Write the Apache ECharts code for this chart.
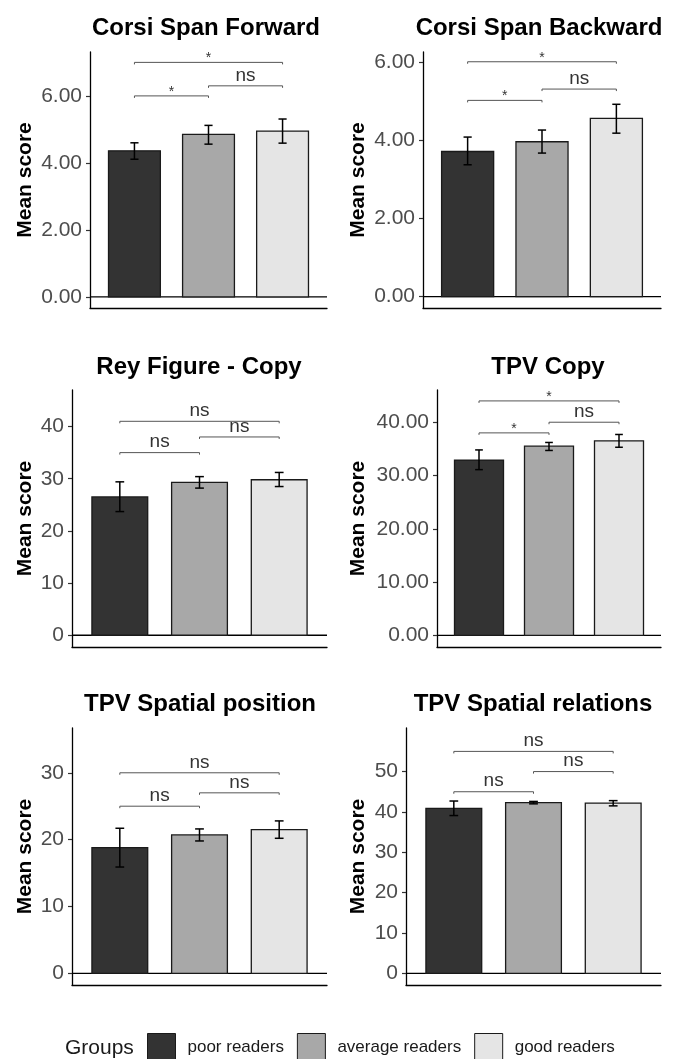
<!DOCTYPE html>
<html><head><meta charset="utf-8">
<script src="https://cdn.jsdelivr.net/npm/echarts@6/dist/echarts.min.js"></script>
<style>html,body{margin:0;padding:0;background:#fff}#c{width:673px;height:1059px}</style>
</head><body><div id="c"></div>
<script>
// ---------- data ----------
const groups = ['poor readers', 'average readers', 'good readers'];
const panelTitles = ['Corsi Span Forward', 'Corsi Span Backward', 'Rey Figure - Copy', 'TPV Copy', 'TPV Spatial position', 'TPV Spatial relations'];

const corsiFwdMean = [4.36, 4.85, 4.95];
const corsiFwdLow  = [4.11, 4.56, 4.59];
const corsiFwdHigh = [4.60, 5.12, 5.31];
const corsiFwdSig  = [[1, 2, 6.0, '*'], [2, 3, 6.3, 'ns'], [1, 3, 7.0, '*']];
const corsiFwdTicks = [0, 2, 4, 6];

const corsiBwdMean = [3.72, 3.97, 4.57];
const corsiBwdLow  = [3.38, 3.68, 4.19];
const corsiBwdHigh = [4.09, 4.27, 4.93];
const corsiBwdSig  = [[1, 2, 5.03, '*'], [2, 3, 5.32, 'ns'], [1, 3, 6.02, '*']];
const corsiBwdTicks = [0, 2, 4, 6];

const reyMean = [26.5, 29.3, 29.8];
const reyLow  = [23.7, 28.2, 28.5];
const reyHigh = [29.4, 30.4, 31.2];
const reySig  = [[1, 2, 35, 'ns'], [2, 3, 38, 'ns'], [1, 3, 41, 'ns']];
const reyTicks = [0, 10, 20, 30, 40];

const tpvCopyMean = [32.9, 35.5, 36.5];
const tpvCopyLow  = [31.1, 34.7, 35.3];
const tpvCopyHigh = [34.8, 36.2, 37.7];
const tpvCopySig  = [[1, 2, 38, '*'], [2, 3, 40, 'ns'], [1, 3, 44, '*']];
const tpvCopyTicks = [0, 10, 20, 30, 40];

const tpvPosMean = [18.8, 20.7, 21.5];
const tpvPosLow  = [15.9, 19.8, 20.2];
const tpvPosHigh = [21.7, 21.6, 22.8];
const tpvPosSig  = [[1, 2, 25, 'ns'], [2, 3, 27, 'ns'], [1, 3, 30, 'ns']];
const tpvPosTicks = [0, 10, 20, 30];

const tpvRelMean = [40.9, 42.3, 42.2];
const tpvRelLow  = [39.1, 42.0, 41.5];
const tpvRelHigh = [42.7, 42.6, 42.8];
const tpvRelSig  = [[1, 2, 45, 'ns'], [2, 3, 50, 'ns'], [1, 3, 55, 'ns']];
const tpvRelTicks = [0, 10, 20, 30, 40, 50];

// ---------- layout / style ----------
const FONT = '"Liberation Sans", Arial, Helvetica, sans-serif';
const groupColors = ['#333333', '#a8a8a8', '#e5e5e5'];
const panels = [
  {mean: corsiFwdMean, low: corsiFwdLow, high: corsiFwdHigh, sig: corsiFwdSig, ticks: corsiFwdTicks, dec: 2,
   grid: {left: 90, top: 52, width: 237, height: 256}, yMin: -0.33, yMax: 7.31, nameGap: 54, titleTop: 16, titleX: 206},
  {mean: corsiBwdMean, low: corsiBwdLow, high: corsiBwdHigh, sig: corsiBwdSig, ticks: corsiBwdTicks, dec: 2,
   grid: {left: 423, top: 52, width: 238, height: 256}, yMin: -0.29, yMax: 6.27, nameGap: 54, titleTop: 16, titleX: 539},
  {mean: reyMean, low: reyLow, high: reyHigh, sig: reySig, ticks: reyTicks, dec: 0,
   grid: {left: 72, top: 390, width: 255, height: 257}, yMin: -2.25, yMax: 47.0, nameGap: 36, titleTop: 355, titleX: 199},
  {mean: tpvCopyMean, low: tpvCopyLow, high: tpvCopyHigh, sig: tpvCopySig, ticks: tpvCopyTicks, dec: 2,
   grid: {left: 437, top: 390, width: 224, height: 257}, yMin: -2.2, yMax: 46.05, nameGap: 68, titleTop: 355, titleX: 548},
  {mean: tpvPosMean, low: tpvPosLow, high: tpvPosHigh, sig: tpvPosSig, ticks: tpvPosTicks, dec: 0,
   grid: {left: 72, top: 728, width: 255, height: 257}, yMin: -1.75, yMax: 36.7, nameGap: 36, titleTop: 692, titleX: 200},
  {mean: tpvRelMean, low: tpvRelLow, high: tpvRelHigh, sig: tpvRelSig, ticks: tpvRelTicks, dec: 0,
   grid: {left: 406, top: 728, width: 255, height: 257}, yMin: -2.9, yMax: 60.8, nameGap: 37, titleTop: 692, titleX: 533}
];

const option = {
  animation: false,
  backgroundColor: '#ffffff',
  textStyle: {fontFamily: FONT},
  title: [],
  grid: [], xAxis: [], yAxis: [], series: [],
  legend: {
    data: groups, left: 147, top: 1033, padding: 0, itemWidth: 28, itemHeight: 28, itemGap: 13, icon: 'rect',
    textStyle: {fontSize: 17, color: '#1a1a1a', fontFamily: FONT, padding: [0, 0, 0, 7]},
    itemStyle: {borderColor: '#1a1a1a', borderWidth: 1}
  }
};

panels.forEach((p, i) => {
  option.grid.push(Object.assign({containLabel: false}, p.grid));
  option.title.push({
    text: panelTitles[i], left: p.titleX, top: p.titleTop, textAlign: 'center', padding: 0,
    textStyle: {fontSize: 24, fontWeight: 'bold', color: '#000', fontFamily: FONT}
  });
  option.xAxis.push({
    type: 'value', gridIndex: i, min: 0.4, max: 3.6,
    axisLine: {show: true, onZero: false, lineStyle: {color: '#000', width: 1.3}},
    axisTick: {show: false}, axisLabel: {show: false}, splitLine: {show: false}
  });
  option.yAxis.push({
    type: 'value', gridIndex: i, min: p.yMin, max: p.yMax,
    name: 'Mean score', nameLocation: 'middle', nameGap: p.nameGap, nameRotate: 90,
    nameTextStyle: {fontSize: 21, fontWeight: 'bold', color: '#000', fontFamily: FONT},
    axisLine: {show: true, onZero: false, lineStyle: {color: '#000', width: 1.3}},
    axisTick: {show: true, length: 4, customValues: p.ticks, lineStyle: {color: '#333', width: 1.2}},
    axisLabel: {customValues: p.ticks, fontSize: 21, color: '#4d4d4d', margin: 8, fontFamily: FONT,
      formatter: v => Number(v).toFixed(p.dec)},
    splitLine: {show: false}
  });
  // zero reference line
  option.series.push({
    type: 'line', xAxisIndex: i, yAxisIndex: i, silent: true, symbol: 'none', z: 1,
    data: [[0.4, 0], [3.6, 0]], lineStyle: {color: '#000', width: 1.3}
  });
  // bars, one series per group
  groups.forEach((g, k) => {
    option.series.push({
      type: 'custom', name: g, xAxisIndex: i, yAxisIndex: i, z: 2,
      itemStyle: {color: groupColors[k], borderColor: '#1a1a1a', borderWidth: 1},
      data: [[k + 1, p.mean[k]]],
      renderItem: (params, api) => {
        const x = api.value(0), y = api.value(1);
        const a = api.coord([x - 0.35, 0]);
        const b = api.coord([x + 0.35, y]);
        return {type: 'rect', shape: {x: a[0], y: b[1], width: b[0] - a[0], height: a[1] - b[1]},
          style: {fill: groupColors[k], stroke: '#1a1a1a', lineWidth: 1.3}};
      }
    });
  });
  // error bars
  option.series.push({
    type: 'custom', xAxisIndex: i, yAxisIndex: i, z: 3, silent: true,
    data: p.mean.map((m, k) => [k + 1, p.low[k], p.high[k]]),
    renderItem: (params, api) => {
      const x = api.value(0), lo = api.value(1), hi = api.value(2);
      const t = api.coord([x, hi]), b = api.coord([x, lo]);
      const tl = api.coord([x - 0.055, hi]), tr = api.coord([x + 0.055, hi]);
      const bl = api.coord([x - 0.055, lo]), br = api.coord([x + 0.055, lo]);
      const st = {stroke: '#000', lineWidth: 1.5};
      return {type: 'group', children: [
        {type: 'line', shape: {x1: t[0], y1: t[1], x2: b[0], y2: b[1]}, style: st},
        {type: 'line', shape: {x1: tl[0], y1: tl[1], x2: tr[0], y2: tr[1]}, style: st},
        {type: 'line', shape: {x1: bl[0], y1: bl[1], x2: br[0], y2: br[1]}, style: st}
      ]};
    }
  });
  // significance brackets
  option.series.push({
    type: 'custom', xAxisIndex: i, yAxisIndex: i, z: 3, silent: true,
    data: p.sig.map(s => [s[0], s[1], s[2]]),
    renderItem: (params, api) => {
      const x1 = api.value(0), x2 = api.value(1), y = api.value(2);
      const lab = p.sig[params.dataIndex][3];
      const a = api.coord([x1, y]), b = api.coord([x2, y]);
      const st = {stroke: '#555', lineWidth: 1};
      const star = lab === '*';
      return {type: 'group', children: [
        {type: 'line', shape: {x1: a[0], y1: a[1], x2: b[0], y2: b[1]}, style: st},
        {type: 'line', shape: {x1: a[0], y1: a[1], x2: a[0], y2: a[1] + 2}, style: st},
        {type: 'line', shape: {x1: b[0], y1: b[1], x2: b[0], y2: b[1] + 2}, style: st},
        {type: 'text', x: (a[0] + b[0]) / 2, y: a[1] + (star ? 3 : -1),
          style: {text: lab, textAlign: 'center', textVerticalAlign: 'bottom',
            fontSize: star ? 14 : 19, fill: '#333', fontFamily: FONT}}
      ]};
    }
  });
});

option.title.push({
  text: 'Groups', left: 65, top: 1038, padding: 0,
  textStyle: {fontSize: 21, fontWeight: 'normal', color: '#1a1a1a', fontFamily: FONT}
});

const chart = echarts.init(document.getElementById('c'), null, {renderer: 'canvas'});
chart.setOption(option);
</script>
</body></html>
